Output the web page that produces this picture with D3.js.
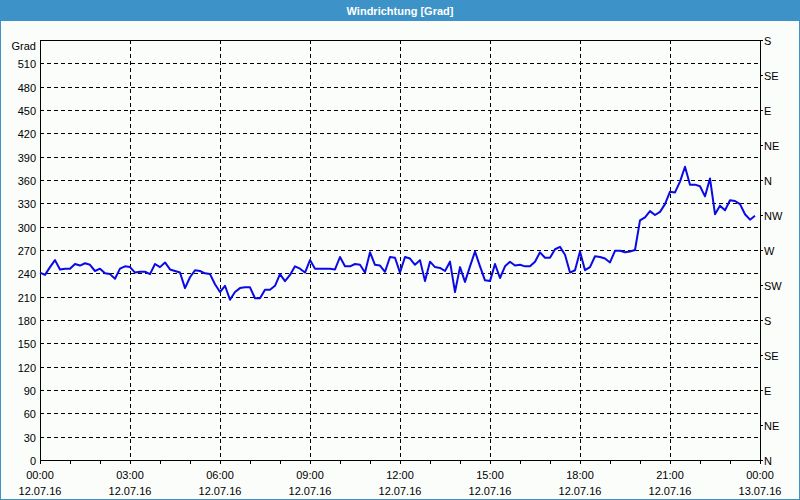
<!DOCTYPE html>
<meta charset="utf-8">
<head>
    <title>Windrichtung</title>
    <style>
        body { margin: 0; }
        svg { display: block; font-family: "Liberation Sans", Arial, sans-serif; font-size: 11px; }
    </style>
</head>
<body>
<script src="https://d3js.org/d3.v7.min.js"></script>
<svg id="chart" width="800" height="500"></svg>

<script>
    // readings every 10 minutes, 12.07.16
    var times = [
        "00:00","00:10","00:20","00:30","00:40","00:50","01:00","01:10","01:20","01:30","01:40","01:50",
        "02:00","02:10","02:20","02:30","02:40","02:50","03:00","03:10","03:20","03:30","03:40","03:50",
        "04:00","04:10","04:20","04:30","04:40","04:50","05:00","05:10","05:20","05:30","05:40","05:50",
        "06:00","06:10","06:20","06:30","06:40","06:50","07:00","07:10","07:20","07:30","07:40","07:50",
        "08:00","08:10","08:20","08:30","08:40","08:50","09:00","09:10","09:20","09:30","09:40","09:50",
        "10:00","10:10","10:20","10:30","10:40","10:50","11:00","11:10","11:20","11:30","11:40","11:50",
        "12:00","12:10","12:20","12:30","12:40","12:50","13:00","13:10","13:20","13:30","13:40","13:50",
        "14:00","14:10","14:20","14:30","14:40","14:50","15:00","15:10","15:20","15:30","15:40","15:50",
        "16:00","16:10","16:20","16:30","16:40","16:50","17:00","17:10","17:20","17:30","17:40","17:50",
        "18:00","18:10","18:20","18:30","18:40","18:50","19:00","19:10","19:20","19:30","19:40","19:50",
        "20:00","20:10","20:20","20:30","20:40","20:50","21:00","21:10","21:20","21:30","21:40","21:50",
        "22:00","22:10","22:20","22:30","22:40","22:50","23:00","23:10","23:20","23:30","23:40","23:50"
    ];
    var direction = [
        241,238,248,257,245,246,246,252,250,253,251,243,
        246,240,239,233,246,249,248,241,242,242,239,252,
        248,254,245,243,241,221,235,244,243,240,239,226,
        216,224,206,216,221,222,222,208,208,219,219,224,
        239,230,238,249,246,241,257,246,246,246,246,245,
        261,249,249,252,251,241,267,251,250,242,261,260,
        241,261,259,251,257,230,255,248,247,243,255,216,
        248,229,249,268,249,231,230,252,234,249,255,250,
        251,249,249,255,267,260,260,271,274,264,241,244,
        268,244,248,262,261,259,254,269,269,267,268,270,
        308,312,320,315,319,329,345,344,358,377,354,354,
        352,339,362,316,327,321,334,333,329,316,309,314
    ];

    var leftTicks = [30,60,90,120,150,180,210,240,270,300,330,360,390,420,450,480,510];
    var compassValues = [0,45,90,135,180,225,270,315,360,405,450,495,540];
    var compassLabels = ["N","NE","E","SE","S","SW","W","NW","N","NE","E","SE","S"];
    var xLabelTimes = ["00:00","03:00","06:00","09:00","12:00","15:00","18:00","21:00","00:00"];
    var xLabelDates = ["12.07.16","12.07.16","12.07.16","12.07.16","12.07.16","12.07.16","12.07.16","12.07.16","13.07.16"];

    (function () {
        var svg = d3.select("#chart"),
            width = 800, height = 500,
            pl = 40, pr = 760, pt = 40, pb = 460;

        var start = new Date(2016, 6, 12, 0, 0),
            end = new Date(2016, 6, 13, 0, 0);
        var parse = d3.timeParse("%Y-%m-%d %H:%M");
        var data = times.map(function (t, i) {
            return {date: parse("2016-07-12 " + t), value: direction[i]};
        });

        var x = d3.scaleTime().domain([start, end]).range([pl, pr]);
        var y = d3.scaleLinear().domain([0, 540]).range([pb, pt]);

        // background + frame
        svg.append("rect").attr("width", width).attr("height", height).attr("fill", "#fbfdfb");
        svg.append("rect").attr("width", width).attr("height", 21).attr("fill", "#3d92c7");
        svg.append("rect").attr("x", 0.5).attr("y", 0.5).attr("width", width - 1).attr("height", height - 1)
            .attr("fill", "none").attr("stroke", "#3d92c7");
        svg.append("text").attr("x", width / 2).attr("y", 14.5).attr("text-anchor", "middle")
            .attr("fill", "#fff").attr("font-weight", "bold").text("Windrichtung [Grad]");

        // grid
        var grid = svg.append("g").attr("stroke", "#000").attr("stroke-dasharray", "4,3").attr("shape-rendering", "crispEdges");
        grid.selectAll(".hg").data(leftTicks).enter().append("line")
            .attr("x1", pl).attr("x2", pr)
            .attr("y1", function (d) { return Math.round(y(d)) + 0.5; })
            .attr("y2", function (d) { return Math.round(y(d)) + 0.5; });
        var vTicks = x.ticks(d3.timeHour.every(3)).slice(1, -1);
        grid.selectAll(".vg").data(vTicks).enter().append("line")
            .attr("y1", pt).attr("y2", pb)
            .attr("x1", function (d) { return Math.round(x(d)) + 0.5; })
            .attr("x2", function (d) { return Math.round(x(d)) + 0.5; });

        // axes
        var xAxis = d3.axisBottom(x).ticks(d3.timeHour.every(1)).tickSize(4).tickFormat("");
        var gx = svg.append("g").attr("transform", "translate(0," + pb + ")").call(xAxis);
        gx.select(".domain").remove();
        gx.selectAll("line").attr("shape-rendering", "crispEdges");

        var gl = svg.append("g").attr("transform", "translate(" + pl + ",0)")
            .call(d3.axisLeft(y).tickValues([0].concat(leftTicks)).tickSize(0).tickPadding(4));
        gl.select(".domain").remove();
        gl.selectAll("text").attr("font-size", 11).attr("font-family", null).attr("fill", "#000").attr("dy", "0.4em");

        var gr = svg.append("g").attr("transform", "translate(" + pr + ",0)")
            .call(d3.axisRight(y).tickValues(compassValues).tickSize(3).tickPadding(1)
                .tickFormat(function (d, i) { return compassLabels[i]; }));
        gr.select(".domain").remove();
        gr.selectAll("line").attr("shape-rendering", "crispEdges");
        gr.selectAll("text").attr("font-size", 11).attr("font-family", null).attr("fill", "#000").attr("dy", "0.4em");

        svg.append("text").attr("x", pl - 4).attr("y", pt + 10).attr("text-anchor", "end").text("Grad");

        svg.append("rect").attr("x", pl + 0.5).attr("y", pt + 0.5)
            .attr("width", pr - pl).attr("height", pb - pt)
            .attr("fill", "none").attr("stroke", "#000").attr("shape-rendering", "crispEdges");

        var labelTicks = x.ticks(d3.timeHour.every(3));
        var xl = svg.append("g").attr("text-anchor", "middle");
        labelTicks.forEach(function (d, i) {
            xl.append("text").attr("x", x(d)).attr("y", 479).text(xLabelTimes[i]);
            xl.append("text").attr("x", x(d)).attr("y", 495).text(xLabelDates[i]);
        });

        // line
        var line = d3.line()
            .x(function (d) { return x(d.date); })
            .y(function (d) { return y(d.value); });
        svg.append("path").datum(data)
            .attr("fill", "none").attr("stroke", "#0a0ae6").attr("stroke-width", 2)
            .attr("stroke-linejoin", "round").attr("d", line);
    })();
</script>
</body>
